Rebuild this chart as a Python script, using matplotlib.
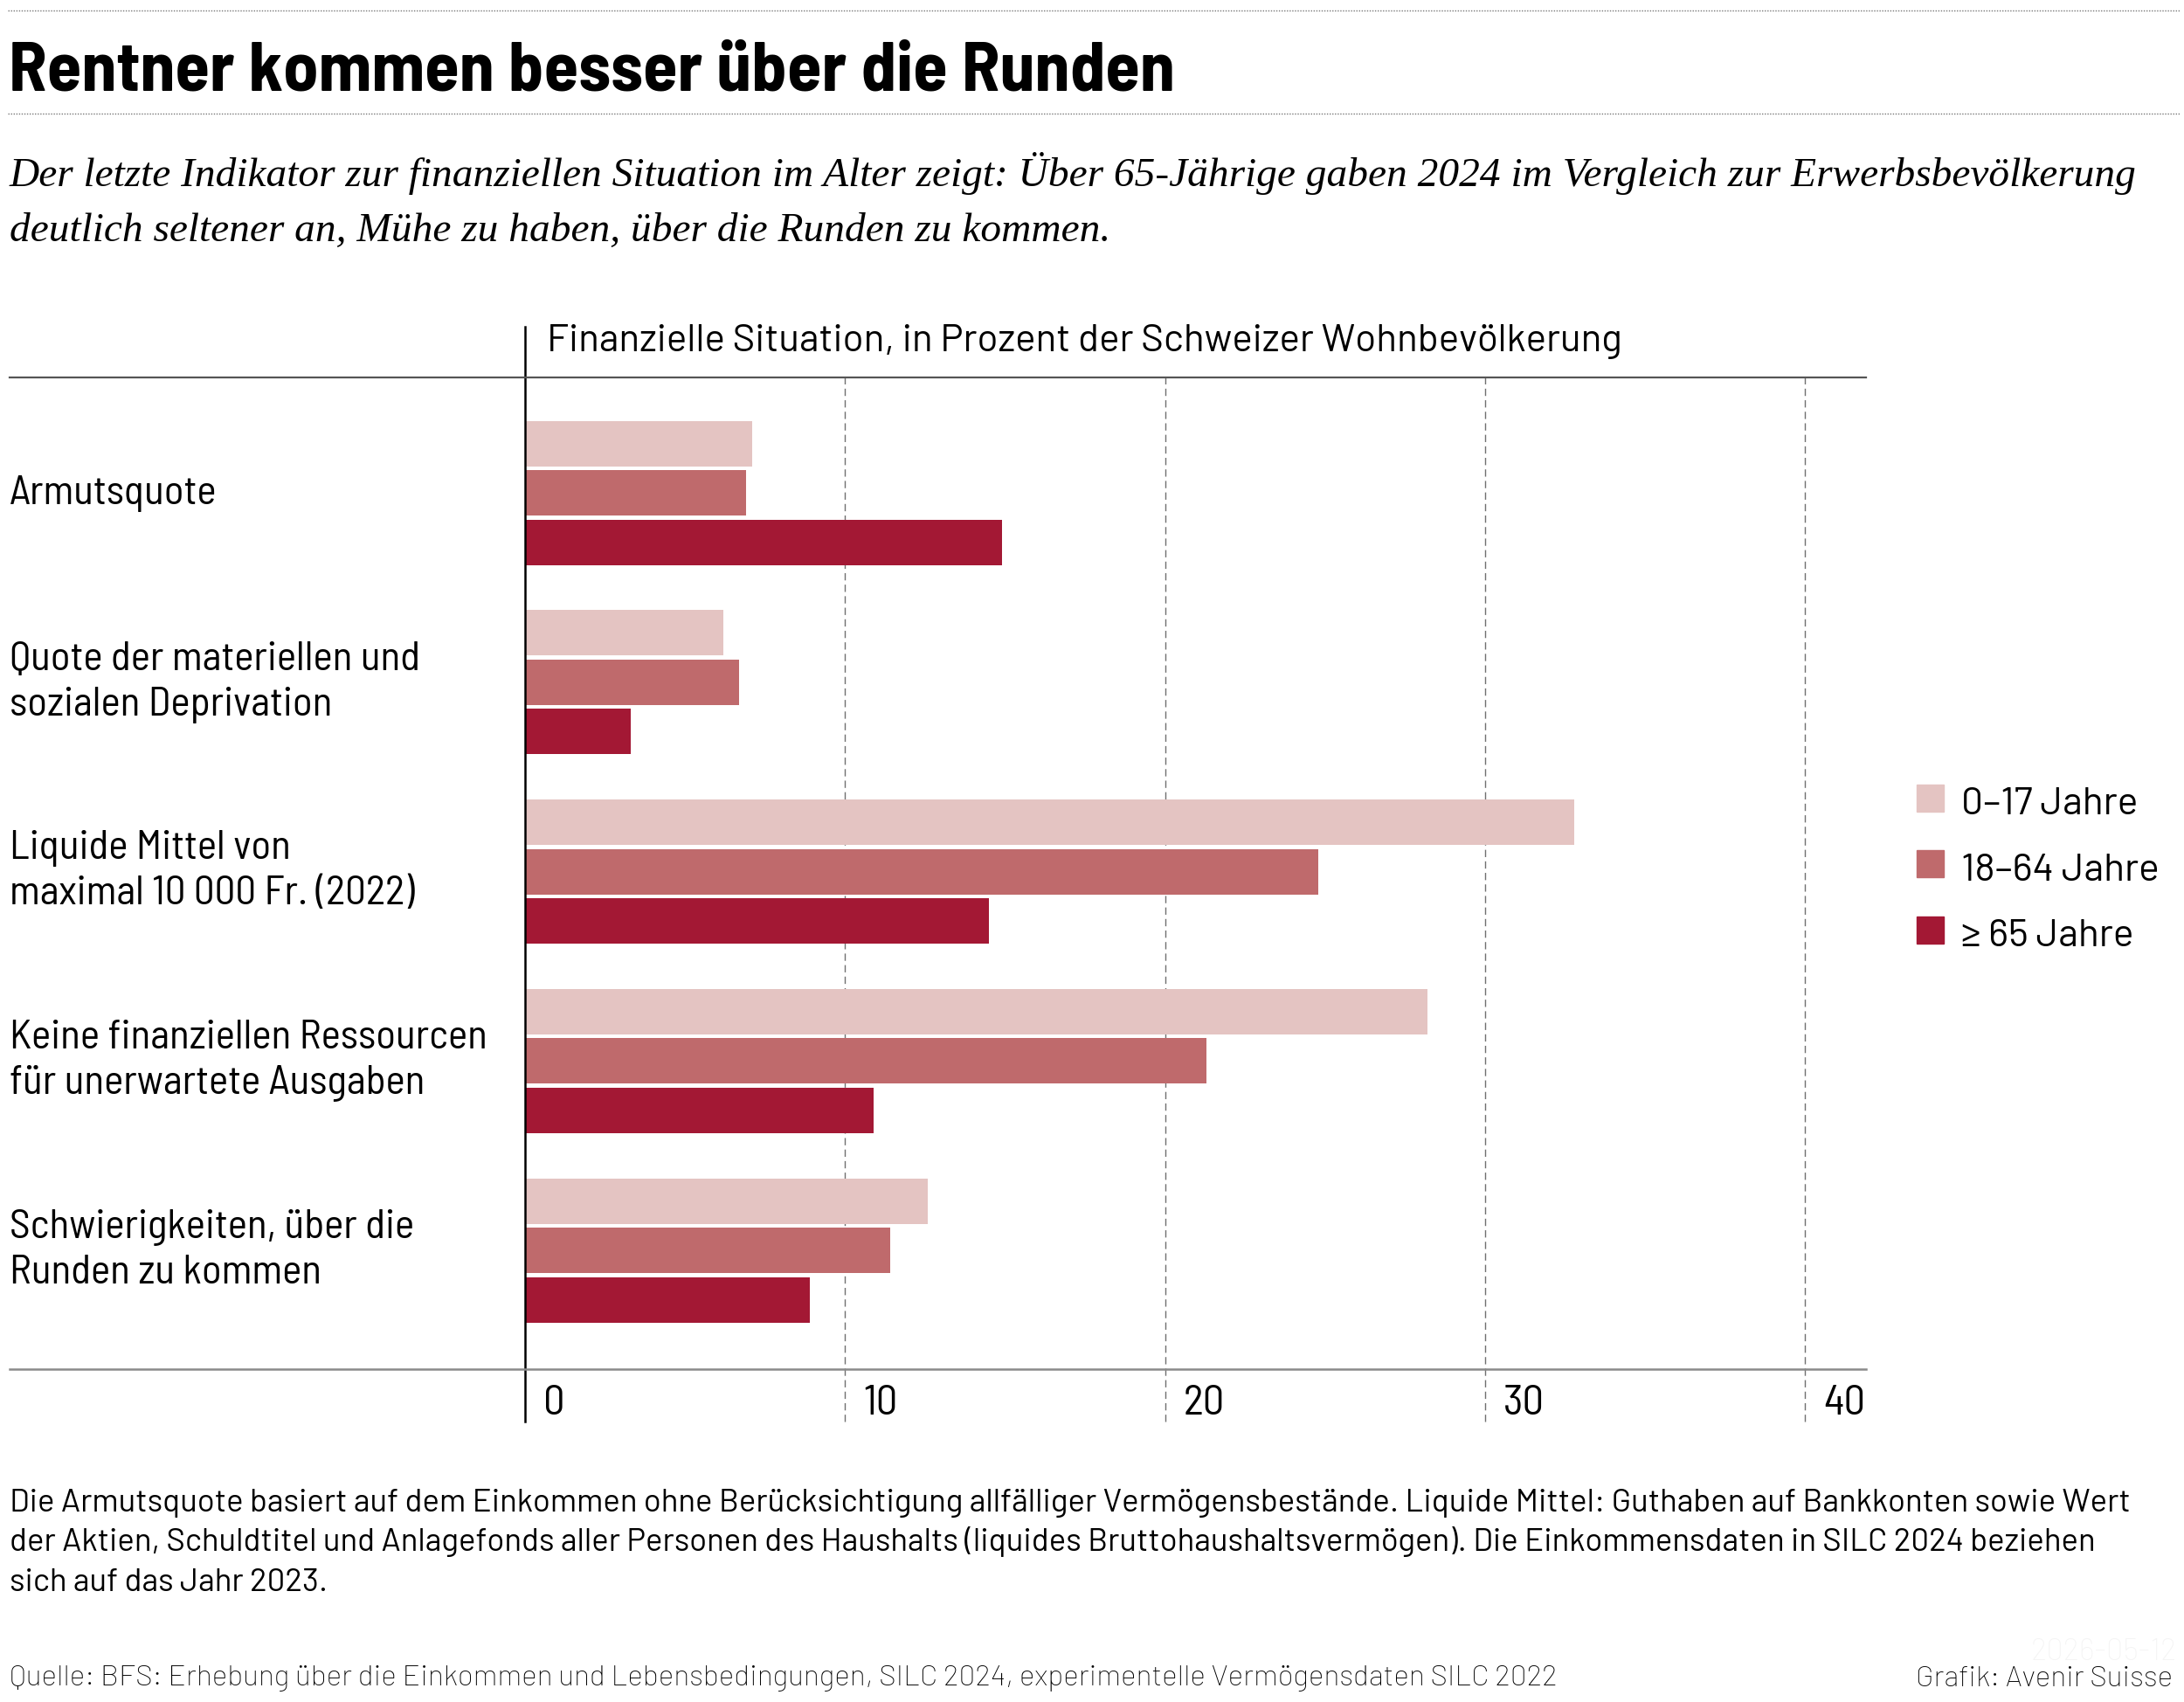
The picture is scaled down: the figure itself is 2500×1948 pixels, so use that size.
import matplotlib
matplotlib.use("Agg")
import matplotlib.pyplot as plt
from matplotlib import transforms
from matplotlib.lines import Line2D
from matplotlib.font_manager import FontProperties
from matplotlib.textpath import TextPath

categories = ["Armutsquote",
              "Quote der materiellen und\nsozialen Deprivation",
              "Liquide Mittel von\nmaximal 10\u2009000 Fr. (2022)",
              "Keine finanziellen Ressourcen\nfür unerwartete Ausgaben",
              "Schwierigkeiten, über die\nRunden zu kommen"]
series_names = ["0\u201317 Jahre", "18\u201364 Jahre", "\u2265 65 Jahre"]
age_0_17 = [7.1, 6.2, 32.8, 28.2, 12.6]
age_18_64 = [6.9, 6.7, 24.8, 21.3, 11.4]
age_65 = [14.9, 3.3, 14.5, 10.9, 8.9]
xticks = [0, 10, 20, 30, 40]

colors = ["#e4c4c2", "#bf6a6c", "#a31834"]
COND = ["Barlow Semi Condensed", "DejaVu Sans"]
SANS = ["Barlow", "DejaVu Sans"]
SERIF = ["Liberation Serif", "DejaVu Serif"]

W, H = 2500, 1948
fig = plt.figure(figsize=(W / 100, H / 100), dpi=100)


def fx(px):
    return px / W


def fy(py):
    return 1 - py / H


def fit_size(text, width_px, **kw):
    # font size (pt) that makes the text width_px wide at 100 dpi
    w = TextPath((0, 0), text, size=100, prop=FontProperties(**kw)).get_extents().width
    return 100 * width_px / (w * 100 / 72)


# plot box in pixels (top/bottom rules, zero line, right end of rules)
left, right, top, bottom = 601, 2136, 432, 1567
ax = fig.add_axes([fx(left), fy(bottom), fx(right - left), (bottom - top) / H])
px_per_unit = (2066 - 601) / 40
ax.set_xlim(0, (right - left) / px_per_unit)
grp = 216.75          # distance between groups in px
first = 564           # centre of first group
ax.set_ylim((bottom - first) / grp, (top - first) / grp)

bar_h = 52 / grp
step = 56.5 / grp
for k, vals in enumerate([age_0_17, age_18_64, age_65]):
    ys = [i + (k - 1) * step for i in range(len(categories))]
    ax.barh(ys, vals, height=bar_h, color=colors[k], linewidth=0, zorder=3)

for s in ax.spines.values():
    s.set_visible(False)
ax.set_yticks([])
ax.set_xticks(xticks)
ax.set_xticklabels([str(t) for t in xticks], family=COND, fontsize=35)
ax.tick_params(axis="x", length=0, pad=13)
off = transforms.ScaledTranslation(21 / 100, 0, fig.dpi_scale_trans)
for lab in ax.get_xticklabels():
    lab.set_ha("left")
    lab.set_transform(lab.get_transform() + off)

ext = (bottom - 1627) / (bottom - top)
for t in xticks[1:]:
    ax.axvline(t, ymin=ext, ymax=1, color="#707070", lw=1, ls=(0, (6, 3.5)), zorder=1, clip_on=False)
ax.axvline(0, ymin=ext, ymax=(bottom - 374) / (bottom - top), color="black", lw=1.8, zorder=5, clip_on=False)

# horizontal rules
fig.add_artist(Line2D([fx(11), fx(right)], [fy(top), fy(top)], color="#555555", lw=1.6))
fig.add_artist(Line2D([fx(11), fx(right)], [fy(bottom), fy(bottom)], color="#8a8a8a", lw=1.8))
for yy in (12, 130):
    fig.add_artist(Line2D([fx(9), fx(2495)], [fy(yy), fy(yy)], color="#777777", lw=1, ls=(0, (1, 1.2))))

# category labels, one baseline per line
blend = transforms.blended_transform_factory(fig.transFigure, ax.transData)
for i, c in enumerate(categories):
    lines = c.split("\n")
    offs = [13] if len(lines) == 1 else [-14, 38]
    for line, o in zip(lines, offs):
        ax.text(fx(11), i + o / grp, line, transform=blend, ha="left", va="baseline",
                family=COND, fontsize=34)

# legend
for k, name in enumerate(series_names):
    ytop = 898 + k * 75.5
    fig.add_artist(plt.Rectangle((fx(2194), fy(ytop + 31)), fx(31), 31 / H, color=colors[k]))
    fig.text(fx(2245), fy(ytop + 34), name, ha="left", va="baseline", family=SANS, fontsize=32)

fig.text(fx(10), fy(103), "Rentner kommen besser über die Runden", family=COND,
         fontsize=58, fontweight="bold", va="baseline")
fig.text(fx(11), fy(213), "Der letzte Indikator zur finanziellen Situation im Alter zeigt: Über 65-Jährige gaben 2024 im Vergleich zur Erwerbsbevölkerung",
         family=SERIF, style="italic", fontsize=34.1, va="baseline")
fig.text(fx(11), fy(276), "deutlich seltener an, Mühe zu haben, über die Runden zu kommen.",
         family=SERIF, style="italic", fontsize=34.1, va="baseline")
fig.text(fx(626), fy(402), "Finanzielle Situation, in Prozent der Schweizer Wohnbevölkerung",
         family=SANS, fontsize=31.7, va="baseline")

notes = ["Die Armutsquote basiert auf dem Einkommen ohne Berücksichtigung allfälliger Vermögensbestände. Liquide Mittel: Guthaben auf Bankkonten sowie Wert",
         "der Aktien, Schuldtitel und Anlagefonds aller Personen des Haushalts (liquides Bruttohaushaltsvermögen). Die Einkommensdaten in SILC 2024 beziehen",
         "sich auf das Jahr 2023."]
note_size = fit_size(notes[0], 2424, family="Barlow")
for j, line in enumerate(notes):
    fig.text(fx(11), fy(1730 + j * 45.5), line, family=SANS, fontsize=note_size, va="baseline")

source = "Quelle: BFS: Erhebung über die Einkommen und Lebensbedingungen, SILC 2024, experimentelle Vermögensdaten SILC 2022"
src_size = fit_size(source, 1770, family="Barlow", weight="light")
fig.text(fx(11), fy(1929), source, family=SANS, fontsize=src_size, fontweight="light", va="baseline")
fig.text(fx(2487), fy(1930), "Grafik: Avenir Suisse", family=SANS, fontsize=src_size,
         fontweight="light", ha="right", va="baseline")
fig.text(fx(2492), fy(1900), "2026-05-12", family=SANS, fontsize=25, fontweight="light",
         ha="right", va="baseline", color="#f4f4f4")

fig.savefig("out.png", dpi=100, facecolor="white")
